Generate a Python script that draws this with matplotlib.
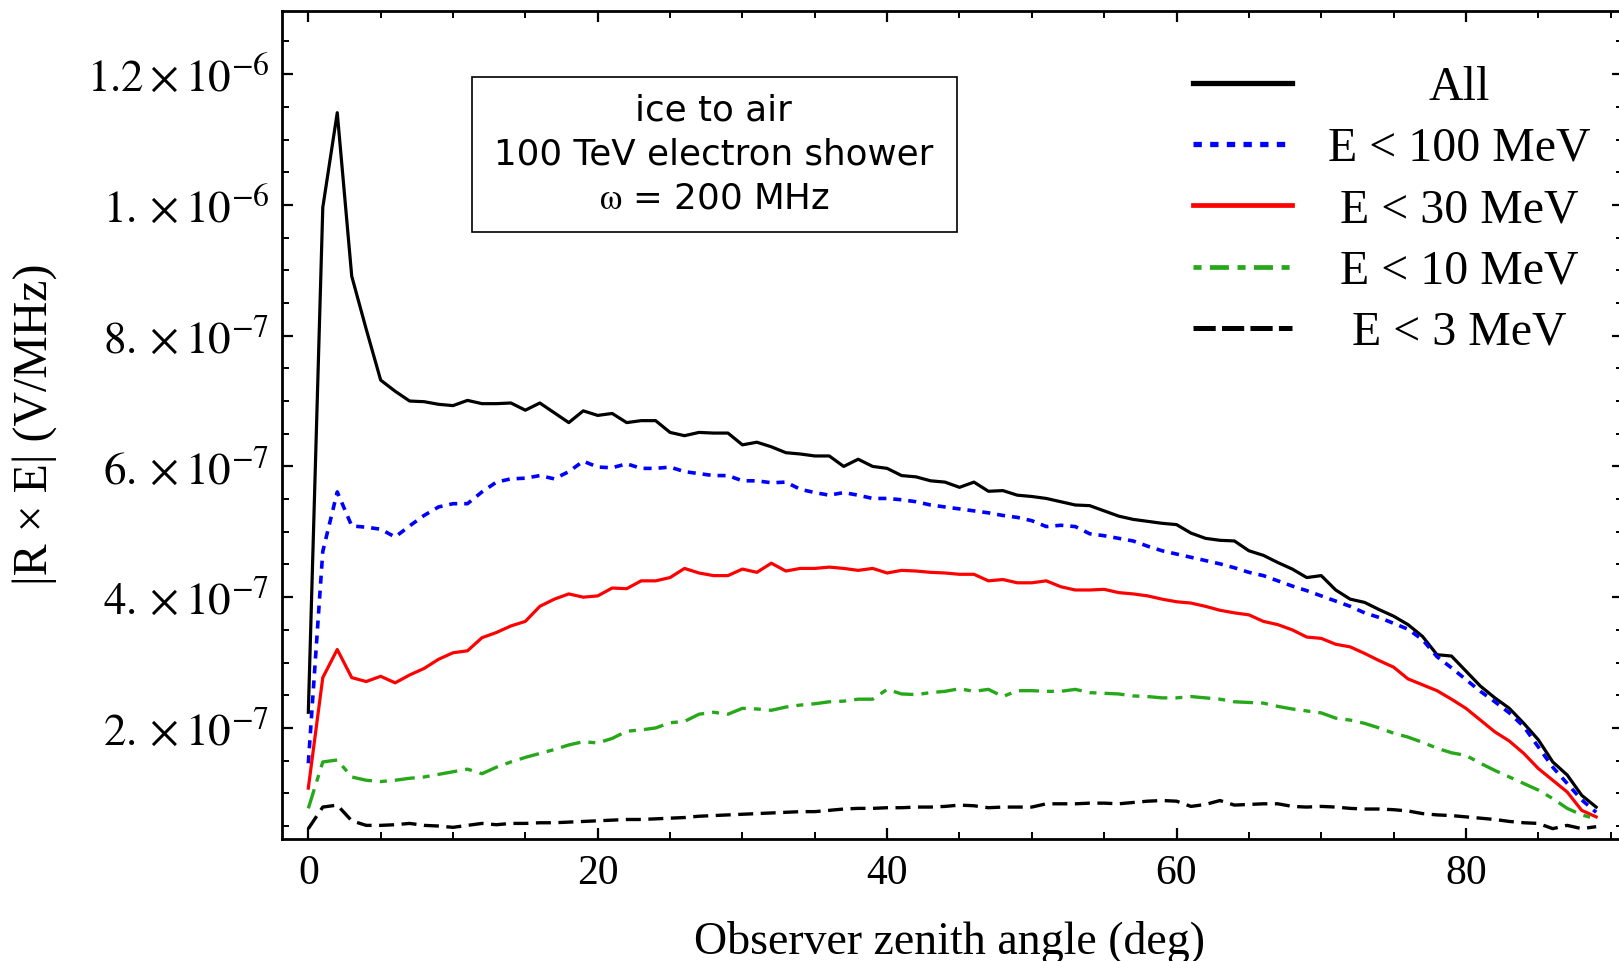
import matplotlib
matplotlib.use("Agg")
import matplotlib.pyplot as plt
import numpy as np
from matplotlib.lines import Line2D
from matplotlib.patches import Rectangle
from matplotlib.ticker import MultipleLocator

plt.rcParams['mathtext.fontset'] = 'stix'
plt.rcParams['font.family'] = ['Liberation Serif', 'DejaVu Serif']
plt.rcParams['lines.scale_dashes'] = False

# ---------------- data (values in units of 1e-7 V/MHz) ----------------
angle = np.arange(0, 90)

all_e = [2.24, 9.96, 11.41, 8.91, 8.10, 7.32, 7.15, 7.00, 6.99, 6.95,
         6.93, 7.01, 6.96, 6.96, 6.97, 6.86, 6.97, 6.82, 6.67, 6.85,
         6.78, 6.81, 6.67, 6.70, 6.70, 6.52, 6.47, 6.52, 6.51, 6.51,
         6.33, 6.37, 6.30, 6.21, 6.19, 6.16, 6.16, 6.00, 6.11, 6.00,
         5.97, 5.86, 5.84, 5.78, 5.76, 5.68, 5.76, 5.62, 5.63, 5.56,
         5.54, 5.51, 5.46, 5.41, 5.40, 5.32, 5.24, 5.19, 5.16, 5.13,
         5.11, 4.98, 4.90, 4.87, 4.86, 4.71, 4.64, 4.53, 4.43, 4.30,
         4.33, 4.11, 3.97, 3.92, 3.81, 3.71, 3.58, 3.40, 3.12, 3.10,
         2.87, 2.64, 2.46, 2.30, 2.07, 1.82, 1.48, 1.28, 0.97, 0.79]

e_lt_100 = [1.46, 4.70, 5.61, 5.09, 5.07, 5.04, 4.92, 5.09, 5.25, 5.38,
            5.43, 5.43, 5.61, 5.76, 5.81, 5.82, 5.86, 5.81, 5.92, 6.08,
            5.99, 5.98, 6.04, 5.97, 5.97, 5.99, 5.92, 5.89, 5.86, 5.86,
            5.78, 5.78, 5.75, 5.76, 5.65, 5.60, 5.56, 5.60, 5.56, 5.51,
            5.51, 5.49, 5.46, 5.41, 5.38, 5.35, 5.32, 5.29, 5.25, 5.22,
            5.17, 5.08, 5.10, 5.08, 4.97, 4.94, 4.90, 4.86, 4.78, 4.71,
            4.66, 4.61, 4.56, 4.51, 4.45, 4.38, 4.33, 4.25, 4.17, 4.10,
            4.02, 3.94, 3.86, 3.76, 3.69, 3.60, 3.51, 3.35, 3.09, 2.92,
            2.74, 2.56, 2.40, 2.23, 2.02, 1.71, 1.40, 1.15, 0.90, 0.71]

e_lt_30 = [1.08, 2.77, 3.20, 2.77, 2.71, 2.79, 2.69, 2.81, 2.91, 3.05,
           3.15, 3.18, 3.38, 3.46, 3.56, 3.63, 3.86, 3.97, 4.05, 4.00,
           4.02, 4.14, 4.13, 4.25, 4.25, 4.30, 4.44, 4.37, 4.33, 4.33,
           4.43, 4.38, 4.52, 4.40, 4.44, 4.44, 4.46, 4.44, 4.41, 4.44,
           4.37, 4.41, 4.40, 4.38, 4.37, 4.35, 4.35, 4.25, 4.27, 4.22,
           4.22, 4.25, 4.16, 4.11, 4.11, 4.12, 4.07, 4.05, 4.02, 3.97,
           3.93, 3.91, 3.86, 3.80, 3.76, 3.73, 3.63, 3.58, 3.50, 3.39,
           3.37, 3.28, 3.24, 3.14, 3.03, 2.93, 2.75, 2.66, 2.57, 2.44,
           2.30, 2.12, 1.94, 1.80, 1.61, 1.38, 1.20, 1.02, 0.74, 0.64]

e_lt_10 = [0.77, 1.48, 1.51, 1.25, 1.20, 1.18, 1.20, 1.23, 1.25, 1.29,
           1.33, 1.37, 1.30, 1.40, 1.48, 1.55, 1.61, 1.67, 1.74, 1.79,
           1.77, 1.84, 1.95, 1.97, 2.00, 2.08, 2.10, 2.21, 2.24, 2.21,
           2.30, 2.29, 2.27, 2.32, 2.35, 2.37, 2.40, 2.41, 2.44, 2.44,
           2.59, 2.52, 2.51, 2.54, 2.56, 2.60, 2.56, 2.59, 2.48, 2.57,
           2.57, 2.56, 2.56, 2.59, 2.54, 2.53, 2.52, 2.49, 2.48, 2.46,
           2.46, 2.48, 2.46, 2.44, 2.40, 2.39, 2.38, 2.33, 2.29, 2.26,
           2.23, 2.15, 2.12, 2.07, 2.00, 1.92, 1.86, 1.78, 1.69, 1.62,
           1.58, 1.46, 1.35, 1.25, 1.15, 1.05, 0.92, 0.77, 0.67, 0.61]

e_lt_3 = [0.46, 0.79, 0.82, 0.58, 0.51, 0.51, 0.52, 0.54, 0.51, 0.50,
          0.48, 0.51, 0.54, 0.52, 0.54, 0.54, 0.55, 0.55, 0.56, 0.57,
          0.58, 0.59, 0.60, 0.60, 0.61, 0.62, 0.63, 0.65, 0.66, 0.67,
          0.68, 0.69, 0.70, 0.71, 0.72, 0.72, 0.74, 0.76, 0.77, 0.77,
          0.78, 0.78, 0.79, 0.79, 0.80, 0.82, 0.81, 0.78, 0.79, 0.79,
          0.79, 0.84, 0.84, 0.84, 0.85, 0.85, 0.84, 0.86, 0.88, 0.89,
          0.88, 0.80, 0.83, 0.89, 0.82, 0.83, 0.84, 0.84, 0.80, 0.79,
          0.80, 0.79, 0.77, 0.76, 0.76, 0.75, 0.73, 0.69, 0.67, 0.66,
          0.64, 0.62, 0.60, 0.57, 0.55, 0.54, 0.46, 0.51, 0.46, 0.49]

unit = 1e-7

legend_labels = ["All", "E < 100 MeV", "E < 30 MeV", "E < 10 MeV", "E < 3 MeV"]
x_ticks = [0, 20, 40, 60, 80]
x_tick_labels = ["0", "20", "40", "60", "80"]
y_ticks = [2e-7, 4e-7, 6e-7, 8e-7, 1e-6, 1.2e-6]
y_tick_labels = [r"$2.\times10^{-7}$", r"$4.\times10^{-7}$", r"$6.\times10^{-7}$",
                 r"$8.\times10^{-7}$", r"$1.\times10^{-6}$", r"$1.2\times10^{-6}$"]
box_lines = ["ice to air", "100 TeV electron shower", r"$\mathrm{\omega}$ = 200 MHz"]

# ---------------- figure ----------------
GREEN = '#26a81a'
BLUE = '#0000ff'
RED = '#ff0000'

fig = plt.figure(figsize=(16.19, 9.61), dpi=100)
ax = fig.add_axes([0.17399, 0.12664, 0.82835, 0.86223])

ax.plot(angle, np.array(all_e) * unit, color='black', lw=2.3)
ax.plot(angle, np.array(e_lt_100) * unit, color=BLUE, lw=2.6, ls=(0, (5.8, 5.0)))
ax.plot(angle, np.array(e_lt_30) * unit, color=RED, lw=2.3)
ax.plot(angle, np.array(e_lt_10) * unit, color=GREEN, lw=2.4, ls=(0, (14.4, 5.8, 5.0, 5.8)))
ax.plot(angle, np.array(e_lt_3) * unit, color='black', lw=2.4, ls=(0, (10.8, 5.4)))

ax.set_xlim(-1.84, 90.84)
ax.set_ylim(0.297e-7, 12.97e-7)

ax.set_xticks(x_ticks)
ax.set_xticklabels(x_tick_labels)
ax.xaxis.set_minor_locator(MultipleLocator(5))
ax.set_yticks(y_ticks)
ax.set_yticklabels(y_tick_labels)
ax.yaxis.set_minor_locator(MultipleLocator(0.5e-7))

ax.tick_params(which='both', direction='in', top=True, right=True)
ax.tick_params(which='major', length=8, width=1.6)
ax.tick_params(which='minor', length=5, width=1.4)
ax.tick_params(axis='x', which='major', labelsize=30, pad=11)
ax.tick_params(axis='y', which='major', labelsize=32.5, pad=9)
for sp in ax.spines.values():
    sp.set_linewidth(2.0)

ax.set_ylabel('|R × E| (V/MHz)', fontsize=34.5, va='center')
ax.yaxis.set_label_coords(-0.1845, 0.5012)
ax.set_xlabel('Observer zenith angle (deg)', fontsize=33, va='center')
ax.xaxis.set_label_coords(0.4983, -0.1245)

# annotation box
ax.add_patch(Rectangle((0.1417, 0.7333), 0.5033 - 0.1417, 0.9204 - 0.7333,
                       transform=ax.transAxes, fill=False, lw=1.2, ec='black'))
for txt, yb in zip(box_lines, [0.8669, 0.8138, 0.7607]):
    ax.text(0.3223, yb, txt, transform=ax.transAxes, ha='center', va='baseline',
            fontsize=25.7, family=['DejaVu Sans'])

# legend
handles = [
    Line2D([], [], color='black', lw=3.8),
    Line2D([], [], color=BLUE, lw=3.8, ls=(0, (6, 6))),
    Line2D([], [], color=RED, lw=3.4),
    Line2D([], [], color=GREEN, lw=3.4, ls=(0, (5.8, 6, 13.7, 6.2))),
    Line2D([], [], color='black', lw=3.6, ls=(0, (16, 4.5))),
]
leg = ax.legend(handles, legend_labels, loc='upper left', bbox_to_anchor=(0.6793, 0.9338),
                frameon=False, fontsize=34.5, handlelength=2.07, handletextpad=0.76,
                labelspacing=0.36, borderpad=0, borderaxespad=0)

fig.canvas.draw()
r = fig.canvas.get_renderer()
texts = leg.get_texts()
widths = [t.get_window_extent(r).width for t in texts]
W = max(widths)
for t, w in zip(texts, widths):
    t.set_x((W - w) / 2.0)

fig.savefig('out.png', dpi=100)
